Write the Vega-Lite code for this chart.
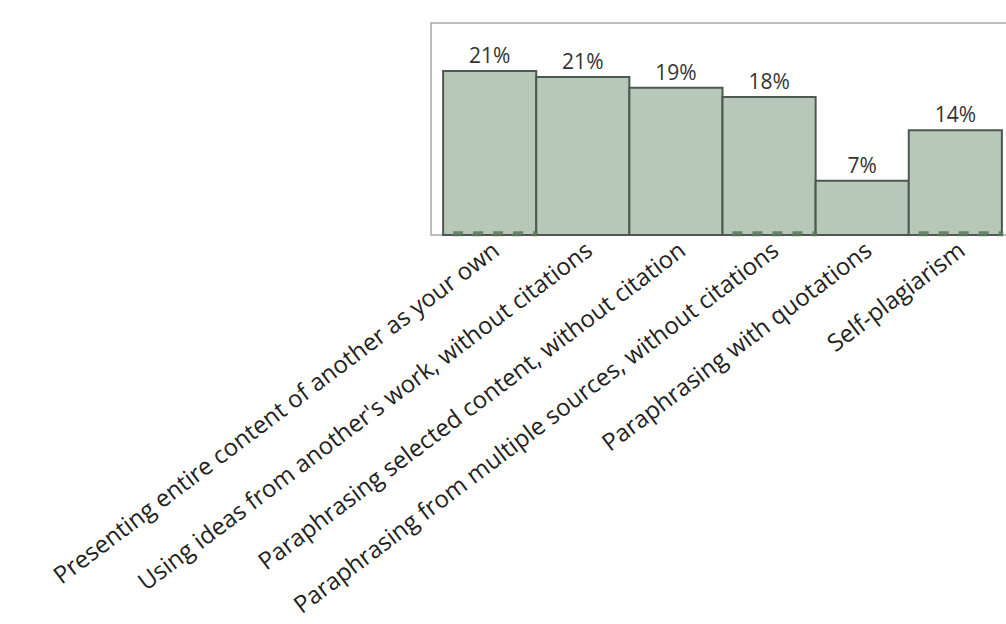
{
  "$schema": "https://vega.github.io/schema/vega-lite/v6.json",
  "autosize": {"type": "none"},
  "padding": {"left": 431, "top": 23, "right": -8, "bottom": 389},
  "width": 583,
  "height": 212,
  "background": "white",
  "config": {
    "font": "Open Sans",
    "view": {"stroke": "#a8a8a8", "strokeWidth": 1.5, "fill": "white"}
  },
  "data": {
    "values": [
      {"category": "Presenting entire content of another as your own", "share": 0.2138, "marker": 0.0033},
      {"category": "Using ideas from another's work, without citations", "share": 0.206, "marker": null},
      {"category": "Paraphrasing selected content, without citation", "share": 0.192, "marker": null},
      {"category": "Paraphrasing from multiple sources, without citations", "share": 0.18, "marker": 0.0033},
      {"category": "Paraphrasing with quotations", "share": 0.0708, "marker": null},
      {"category": "Self-plagiarism", "share": 0.1365, "marker": 0.0033}
    ]
  },
  "encoding": {
    "x": {
      "field": "category",
      "type": "nominal",
      "sort": null,
      "scale": {"paddingInner": 0, "paddingOuter": 0.13},
      "axis": {
        "title": null,
        "domain": false,
        "ticks": false,
        "labelAngle": -37,
        "labelFontSize": 24,
        "labelColor": "#222222",
        "labelLimit": 0,
        "labelPadding": 3
      }
    }
  },
  "layer": [
    {
      "mark": {"type": "bar", "fill": "#b7c8b9", "stroke": "#4e5750", "strokeWidth": 2},
      "encoding": {
        "y": {"field": "share", "type": "quantitative", "scale": {"domain": [0, 0.2764], "nice": false, "zero": true}, "axis": null}
      }
    },
    {
      "mark": {"type": "bar", "fill": "transparent", "stroke": "#5a7a5a", "strokeWidth": 2.5, "strokeDash": [10, 10], "strokeDashOffset": 10, "opacity": 0.85},
      "encoding": {
        "y": {"field": "marker", "type": "quantitative", "scale": {"domain": [0, 0.2764], "nice": false}, "axis": null}
      }
    },
    {
      "mark": {"type": "text", "baseline": "bottom", "dy": -4, "fontSize": 21, "color": "#333333"},
      "encoding": {
        "y": {"field": "share", "type": "quantitative"},
        "text": {"field": "share", "type": "quantitative", "format": ".0%"}
      }
    }
  ]
}
